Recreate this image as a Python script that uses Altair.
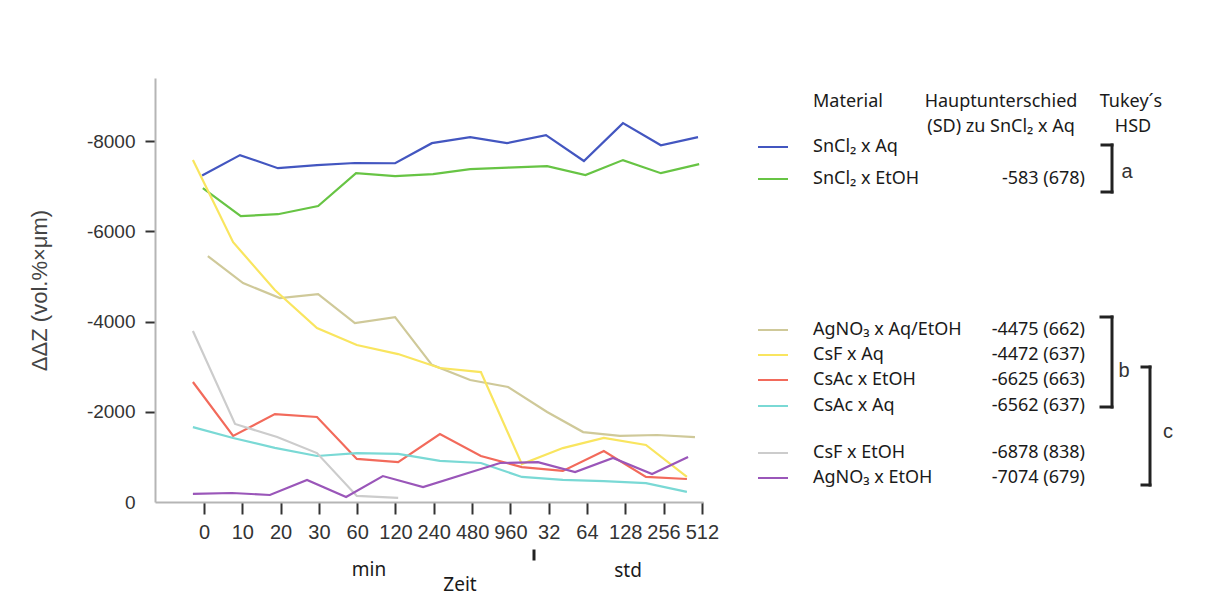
import json
import altair as alt
import pandas as pd

# ---------------- data ----------------
tick_labels = ["0", "10", "20", "30", "60", "120", "240", "480", "960", "32", "64", "128", "256", "512"]
y_ticks = [-8000, -6000, -4000, -2000, 0]

series = ["SnCl₂ x Aq", "SnCl₂ x EtOH", "AgNO₃ x Aq/EtOH", "CsF x Aq",
          "CsAc x EtOH", "CsAc x Aq", "CsF x EtOH", "AgNO₃ x EtOH"]
diffs = ["", "-583 (678)", "-4475 (662)", "-4472 (637)",
         "-6625 (663)", "-6562 (637)", "-6878 (838)", "-7074 (679)"]
colors = ["#4356c0", "#67c444", "#cfc999", "#f9e55f",
          "#f26a5b", "#7ad9d5", "#cccccc", "#9a56b9"]

x_sncl_aq = [-0.05, 0.94, 1.93, 2.95, 3.94, 4.99, 5.95, 6.95, 7.91, 8.93, 9.92, 10.94, 11.93, 12.90]
v_sncl_aq = [-7240, -7690, -7400, -7470, -7515, -7510, -7955, -8090, -7955, -8135, -7560, -8400, -7910, -8090]

x_sncl_et = [-0.03, 0.96, 1.93, 2.98, 3.97, 4.99, 5.98, 6.95, 7.94, 8.96, 9.96, 10.94, 11.93, 12.93]
v_sncl_et = [-6960, -6340, -6380, -6560, -7290, -7225, -7270, -7380, -7415, -7445, -7250, -7580, -7290, -7490]

x_agno_aqet = [0.10, 1.02, 1.98, 2.98, 3.94, 4.99, 5.95, 6.95, 7.94, 8.96, 9.90, 10.86, 11.83, 12.82]
v_agno_aqet = [-5450, -4855, -4520, -4610, -3965, -4100, -3040, -2705, -2550, -1995, -1550, -1465, -1485, -1440]

x_13 = [-0.29, 0.76, 1.85, 2.95, 3.99, 5.07, 6.16, 7.23, 8.30, 9.37, 10.44, 11.54, 12.61]
v_csf_aq = [-7580, -5760, -4700, -3855, -3480, -3280, -2970, -2880, -840, -1195, -1420, -1265, -555]
v_csac_et = [-2660, -1465, -1950, -1885, -955, -885, -1505, -1020, -775, -690, -1130, -555, -510]
v_csac_aq = [-1660, -1420, -1200, -1020, -1085, -1065, -910, -865, -555, -490, -465, -420, -225]

x_csf_et = [-0.29, 0.81, 1.91, 2.95, 3.99, 5.07]
v_csf_et = [-3790, -1730, -1440, -1085, -135, -90]

x_agno_et = [-0.29, 0.73, 1.72, 2.69, 3.71, 4.67, 5.72, 7.73, 8.72, 9.69, 10.68, 11.70, 12.64]
v_agno_et = [-180, -200, -155, -490, -110, -575, -330, -865, -885, -665, -975, -620, -995]

xs = [x_sncl_aq, x_sncl_et, x_agno_aqet, x_13, x_13, x_13, x_csf_et, x_agno_et]
vs = [v_sncl_aq, v_sncl_et, v_agno_aqet, v_csf_aq, v_csac_et, v_csac_aq, v_csf_et, v_agno_et]

rows = []
for name, xl, vl in zip(series, xs, vs):
    for i, (x, v) in enumerate(zip(xl, vl)):
        rows.append({"s": name, "x": x, "v": v, "i": i})
df = pd.DataFrame(rows)

# ---------------- layout ----------------
PL, PT = 155, 78          # plot origin in page pixels
W, H = 548, 424
AXIS_FONT = "Liberation Sans"
TXT_FONT = "Noto Sans"


def px(x):
    return x - PL


def py(y):
    return y - PT


one = alt.Data(values=[{}])


def text(t, x, y, size=18, align="left", font=TXT_FONT, color="#1a1a1a"):
    return alt.Chart(one).mark_text(
        text=t, align=align, baseline="middle", fontSize=size, font=font, color=color
    ).encode(x=alt.value(px(x)), y=alt.value(py(y)))


def rule(x1, y1, x2, y2, color="#222222", width=3):
    return alt.Chart(one).mark_rule(color=color, strokeWidth=width, strokeCap="square").encode(
        x=alt.value(px(x1)), x2=alt.value(px(x2)), y=alt.value(py(y1)), y2=alt.value(py(y2))
    )


label_expr = json.dumps(tick_labels) + "[round(datum.value)]"

lines = alt.Chart(df).mark_line(strokeWidth=2.2).encode(
    x=alt.X("x:Q",
            scale=alt.Scale(domain=[-1.28, 13.03], nice=False, zero=False),
            axis=alt.Axis(values=list(range(len(tick_labels))), labelExpr=label_expr,
                          title=None, grid=False, tickSize=12, tickWidth=2, tickColor="#333333",
                          domainColor="#b5b5b5", domainWidth=2, labelFont=AXIS_FONT,
                          labelFontSize=20, labelColor="#333333", labelPadding=8)),
    y=alt.Y("v:Q",
            scale=alt.Scale(domain=[-9400, 0], reverse=True, nice=False, zero=False),
            axis=alt.Axis(values=y_ticks, labelExpr="'' + datum.value", title="ΔΔZ (vol.%×μm)",
                          grid=False, tickSize=10, tickWidth=2, tickColor="#333333",
                          tickOpacity={"expr": "datum.value == 0 ? 0 : 1"},
                          domainColor="#b5b5b5", domainWidth=2, labelFont=AXIS_FONT,
                          labelFontSize=19, labelColor="#333333", labelPadding=10,
                          titleFont=AXIS_FONT, titleFontSize=22, titleFontWeight="normal",
                          titleColor="#444444", titlePadding=35)),
    color=alt.Color("s:N", scale=alt.Scale(domain=series, range=colors), legend=None),
    detail="s:N",
    order="i:Q",
)

layers = [lines]

# x-axis group annotations
layers.append(text("min", 369, 570, size=19, align="center"))
layers.append(text("std", 628, 571, size=19, align="center"))
layers.append(text("Zeit", 460, 585, size=19, align="center"))
layers.append(rule(534, 551, 534, 559, color="#222222", width=3))

# legend header
layers.append(text("Material", 813, 102))
layers.append(text("Hauptunterschied", 1001, 102, align="center"))
layers.append(text("(SD) zu SnCl₂ x Aq", 1001, 127, align="center"))
layers.append(text("Tukey´s", 1131, 102, align="center"))
layers.append(text("HSD", 1133, 127, align="center"))

row_y = [147, 179, 330, 355, 380, 406, 453, 478]
for name, d, c, yy in zip(series, diffs, colors, row_y):
    layers.append(rule(759, yy, 787, yy, color=c, width=2))
    layers.append(text(name, 813, yy))
    if d:
        layers.append(text(d, 1085, yy, align="right"))

# Tukey brackets
for (xv, y1, y2, xl) in [(1112, 145, 192, 1102), (1112, 317, 407, 1101), (1150, 367, 485, 1142)]:
    layers.append(rule(xv, y1, xv, y2))
    layers.append(rule(xl, y1, xv, y1))
    layers.append(rule(xl, y2, xv, y2))
layers.append(text("a", 1127, 172, size=20, align="center", font=AXIS_FONT, color="#333333"))
layers.append(text("b", 1124, 371, size=20, align="center", font=AXIS_FONT, color="#333333"))
layers.append(text("c", 1168, 432, size=20, align="center", font=AXIS_FONT, color="#333333"))

chart = alt.layer(*layers).properties(
    width=W, height=H,
    autosize=alt.AutoSizeParams(type="none"),
    padding={"left": PL - 8, "top": PT - 8, "right": 1200 - PL - W, "bottom": 98},
    background="white",
).configure_view(stroke=None)

chart.save("out.html", embed_options={"renderer": "svg", "actions": False})
